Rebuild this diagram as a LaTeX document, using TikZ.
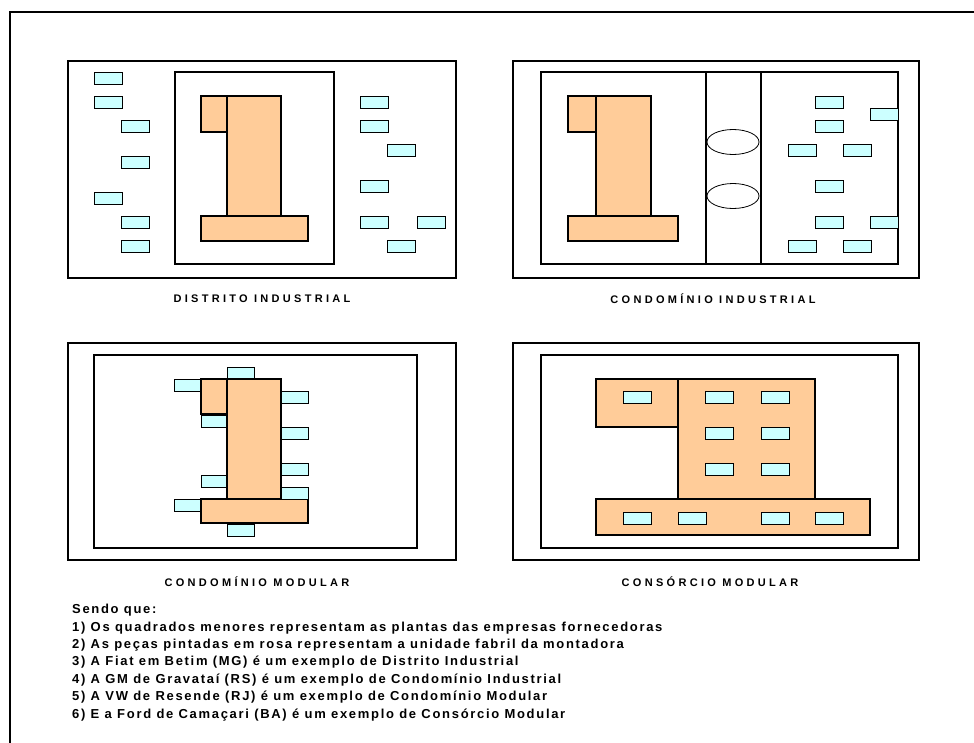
\documentclass[tikz,border=0pt]{standalone}
\usepackage{xcolor}
\usepackage{fontspec}
\setmainfont{Liberation Sans}
\usepackage{tikz}
\definecolor{montadora-rosa}{HTML}{FFCC99}
\definecolor{fornecedor-ciano}{HTML}{CCFFFF}
\newcommand{\legendafont}{\fontsize{11}{13}\selectfont\bfseries\addfontfeatures{LetterSpace=30}}
\newcommand{\notasfont}{\fontsize{13}{17.4}\selectfont\bfseries\addfontfeatures{LetterSpace=13}}
\tikzset{%
		every text node part/.style = {
			align = left
		},
		moldura/.style = {
			draw,
			line width = 2pt
		},
		painel/.style = {
			draw,
			line width = 2.5pt
		},
		terreno/.style = {
			draw,
			line width = 1.3pt
		},
		montadora/.style = {
			draw,
			fill = montadora-rosa,
			line width = 1.3pt
		},
		fornecedor/.style = {
			draw,
			fill = fornecedor-ciano,
			line width = 1pt
		},
		legenda/.style = {
			font = \legendafont,
			inner sep = 0
		}
	}

\begin{document}
\begin{tikzpicture}[x=1pt, y=-1pt]
		\useasboundingbox (0, 0) rectangle (974, 742);
		\draw [moldura] (980, 12) -- (10, 12) -- (10, 750);

		% Distrito industrial
		\draw [painel] (68, 61) rectangle (456, 278);
		\draw [terreno] (175, 72) rectangle (334, 264);
		\draw [montadora] (201, 96) rectangle (227, 132);
		\draw [montadora] (227, 96) rectangle (281, 216);
		\draw [montadora] (201, 216) rectangle (308, 241);
		\foreach \x/\y in {94/72, 94/96, 121/120, 121/156, 94/192, 121/216, 121/240,
				360/96, 360/120, 387/144, 360/180, 360/216, 417/216, 387/240}
			\draw [fornecedor] (\x, \y) rectangle ++(28, 12);
		\node [legenda] (distrito) at (262, 299) {DISTRITO INDUSTRIAL};

		% Condominio industrial
		\draw [painel] (513, 61) rectangle (919, 278);
		\draw [terreno] (541, 72) rectangle (898, 264);
		\draw [terreno] (706, 72) -- (706, 264);
		\draw [terreno] (761, 72) -- (761, 264);
		\draw [line width = 0.8pt] (733, 142) ellipse [x radius = 26, y radius = 12.5];
		\draw [line width = 0.8pt] (733, 196) ellipse [x radius = 26, y radius = 12.5];
		\draw [montadora] (568, 96) rectangle (596, 132);
		\draw [montadora] (596, 96) rectangle (651, 216);
		\draw [montadora] (568, 216) rectangle (678, 241);
		\foreach \x/\y in {815/96, 870/108, 815/120, 788/144, 843/144,
				815/180, 815/216, 870/216, 788/240, 843/240}
			\draw [fornecedor] (\x, \y) rectangle ++(28, 12);
		\node [legenda] (cond-industrial) at (713, 299) {CONDOMÍNIO INDUSTRIAL};

		% Condominio modular
		\draw [painel] (68, 343) rectangle (456, 560);
		\draw [terreno] (94, 355) rectangle (417, 548);
		\foreach \x/\y in {227/367, 174/379, 201/415, 201/475, 174/499, 227/524}
			\draw [fornecedor] (\x, \y) rectangle ++(27, 12);
		\draw [montadora] (201, 379) rectangle (227, 414);
		\draw [montadora] (227, 379) rectangle (281, 499);
		\draw [montadora] (201, 499) rectangle (308, 523);
		\foreach \x/\y in {281/391, 281/427, 281/463, 281/487}
			\draw [fornecedor] (\x, \y) rectangle ++(27, 12);
		\node [legenda] (cond-modular) at (257, 582) {CONDOMÍNIO MODULAR};

		% Consorcio modular
		\draw [painel] (513, 343) rectangle (919, 560);
		\draw [terreno] (541, 355) rectangle (898, 548);
		\draw [montadora] (596, 379) rectangle (678, 427);
		\draw [montadora] (678, 379) rectangle (815, 499);
		\draw [montadora] (596, 499) rectangle (870, 535);
		\foreach \x/\y in {623/391, 705/391, 761/391, 705/427, 761/427, 705/463, 761/463,
				623/512, 678/512, 761/512, 815/512}
			\draw [fornecedor] (\x, \y) rectangle ++(28, 12);
		\node [legenda] (consorcio) at (710, 582) {CONSÓRCIO MODULAR};

		\node [anchor = north west, inner sep = 0, font = \notasfont] (notas) at (72, 604) {%
			Sendo que:\\
			1) Os quadrados menores representam as plantas das empresas fornecedoras\\
			2) As peças pintadas em rosa representam a unidade fabril da montadora\\
			3) A Fiat em Betim (MG) é um exemplo de Distrito Industrial\\
			4) A GM de Gravataí (RS) é um exemplo de Condomínio Industrial\\
			5) A VW de Resende (RJ) é um exemplo de Condomínio Modular\\
			6) E a Ford de Camaçari (BA) é um exemplo de Consórcio Modular};
	\end{tikzpicture}
\end{document}
